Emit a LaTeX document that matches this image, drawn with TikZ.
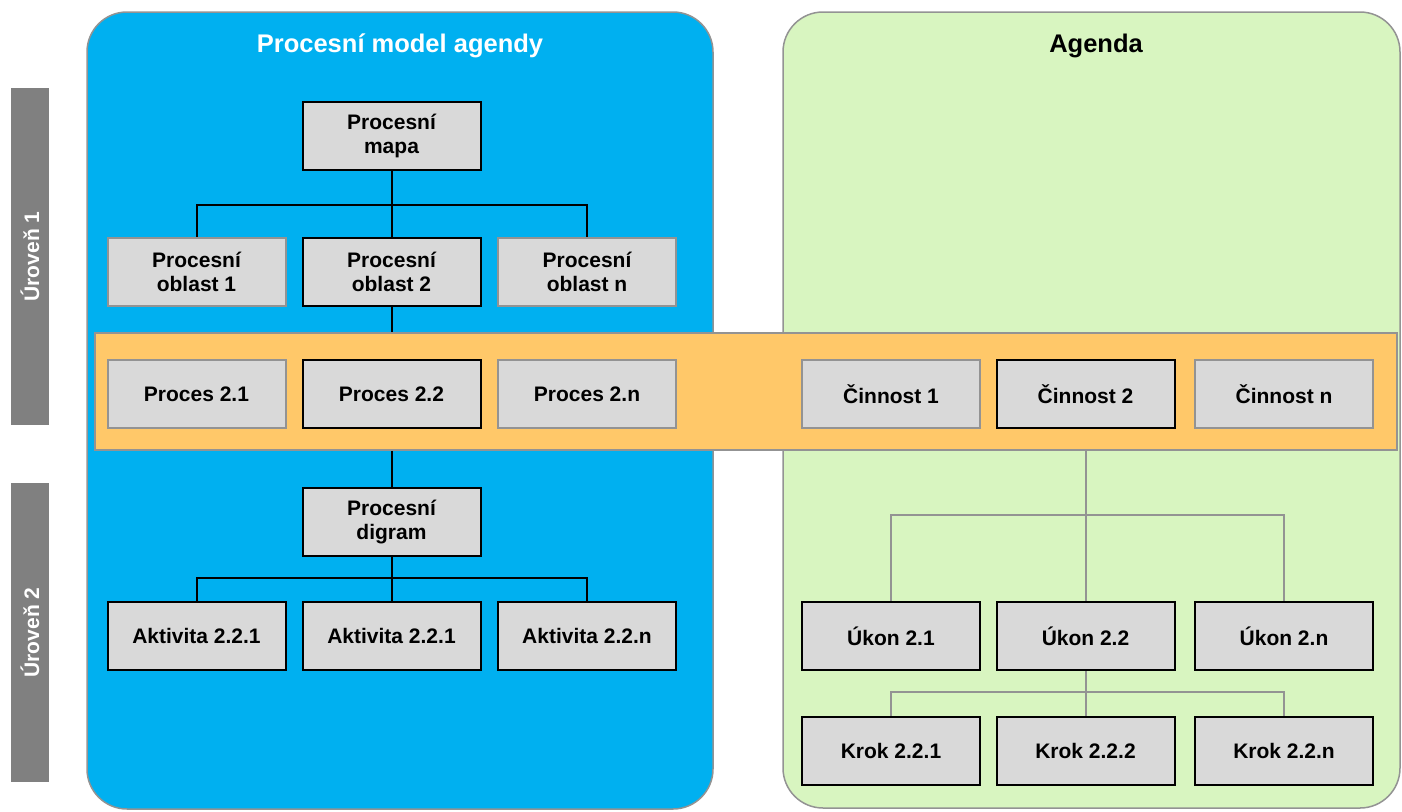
\documentclass[tikz,border=0pt]{standalone}
\usepackage{fontspec}
\setmainfont{Liberation Sans}
\usepackage{tikz}
\usetikzlibrary{positioning, calc}

\definecolor{modelblue}{HTML}{00B0F0}
\definecolor{agendagreen}{HTML}{D8F5C0}
\definecolor{bandorange}{HTML}{FFC869}
\definecolor{boxgray}{HTML}{D9D9D9}
\definecolor{bargray}{HTML}{808080}
\definecolor{edgegray}{HTML}{939393}

\begin{document}
\begin{tikzpicture}[
		x=1pt, y=-1pt,
		every node/.style={font=\bfseries\fontsize{21}{24}\selectfont, align=center},
		% Boxes: strong (black edge) and weak (gray edge)
		strongbox/.style={draw=black, line width=2pt, fill=boxgray,
			minimum width=178pt, minimum height=68pt, inner sep=0pt},
		weakbox/.style={strongbox, draw=edgegray},
		% Panels and band
		panel/.style={draw=edgegray, line width=1.5pt, rounded corners=40pt},
		band/.style={draw=edgegray, line width=1.5pt, fill=bandorange,
			minimum width=1302pt, minimum height=117pt, inner sep=0pt},
		% Level bars on the left
		levelbar/.style={fill=bargray, text=white, rotate=90,
			minimum height=38pt, inner sep=0pt},
		% Connectors
		link/.style={line width=2pt, black},
		graylink/.style={line width=2pt, edgegray},
		title/.style={font=\bfseries\fontsize{25.5}{30}\selectfont}
		]
		\useasboundingbox (0,0) rectangle (1402,811);
		
		% === PANELS ===
		\draw[panel, fill=modelblue] (87,12) rectangle (713,809);
		\draw[panel, fill=agendagreen] (783,12) rectangle (1400,808);
		
		\node[title, text=white] (modeltitle) at (400,46) {Procesní model agendy};
		\node[title] (agendatitle) at (1096,46) {Agenda};
		
		% Level bars
		\node[levelbar, minimum width=337pt] (level1) at (30,256.5) {Úroveň 1};
		\node[levelbar, minimum width=299pt] (level2) at (30,632.5) {Úroveň 2};
		
		% Orange band for the process / activity row
		\node[band] (band) at (746,391.5) {};
		
		% === NODES ===
		
		% Process map and areas
		\node[strongbox] (mapa) at (391.5,136) {Procesní\\mapa};
		\node[weakbox] (obl1) at (196.5,272) {Procesní\\oblast 1};
		\node[strongbox] (obl2) at (391.5,272) {Procesní\\oblast 2};
		\node[weakbox] (obln) at (587,272) {Procesní\\oblast n};
		
		% Processes
		\node[weakbox] (proc21) at (196.5,394) {Proces 2.1};
		\node[strongbox] (proc22) at (391.5,394) {Proces 2.2};
		\node[weakbox] (proc2n) at (587,394) {Proces 2.n};
		
		% Process diagram and activities
		\node[strongbox] (digram) at (391.5,522) {Procesní\\digram};
		\node[strongbox] (akt1) at (196.5,636) {Aktivita 2.2.1};
		\node[strongbox] (akt2) at (391.5,636) {Aktivita 2.2.1};
		\node[strongbox] (aktn) at (587,636) {Aktivita 2.2.n};
		
		% Agenda: activities
		\node[weakbox] (cin1) at (891,394) {Činnost 1};
		\node[strongbox] (cin2) at (1085.5,394) {Činnost 2};
		\node[weakbox] (cinn) at (1284,394) {Činnost n};
		
		% Agenda: acts and steps
		\node[strongbox] (ukon1) at (891,636) {Úkon 2.1};
		\node[strongbox] (ukon2) at (1085.5,636) {Úkon 2.2};
		\node[strongbox] (ukonn) at (1284,636) {Úkon 2.n};
		\node[strongbox] (krok1) at (891,750.5) {Krok 2.2.1};
		\node[strongbox] (krok2) at (1085.5,750.5) {Krok 2.2.2};
		\node[strongbox] (krokn) at (1284,750.5) {Krok 2.2.n};
		
		% === CONNECTORS ===
		
		% Map -> areas
		\coordinate (busmapa) at (391.5,205);
		\draw[link] (mapa.south) -- (busmapa);
		\foreach \n in {obl1, obl2, obln}
		\draw[link] (busmapa) -| (\n.north);
		
		% Area 2 -> band, band -> diagram
		\draw[link] (obl2.south) -- (obl2.south |- band.north);
		\draw[link] (band.south -| digram) -- (digram.north);
		
		% Diagram -> activities
		\coordinate (busdigram) at (391.5,578);
		\draw[link] (digram.south) -- (busdigram);
		\foreach \n in {akt1, akt2, aktn}
		\draw[link] (busdigram) -| (\n.north);
		
		% Činnost 2 -> acts
		\coordinate (buscin) at (1085.5,515);
		\draw[graylink] (band.south -| cin2) -- (buscin);
		\foreach \n in {ukon1, ukon2, ukonn}
		\draw[graylink] (buscin) -| (\n.north);
		
		% Act 2.2 -> steps
		\coordinate (busukon) at (1085.5,692);
		\draw[graylink] (ukon2.south) -- (busukon);
		\foreach \n in {krok1, krok2, krokn}
		\draw[graylink] (busukon) -| (\n.north);
		
	\end{tikzpicture}
\end{document}
